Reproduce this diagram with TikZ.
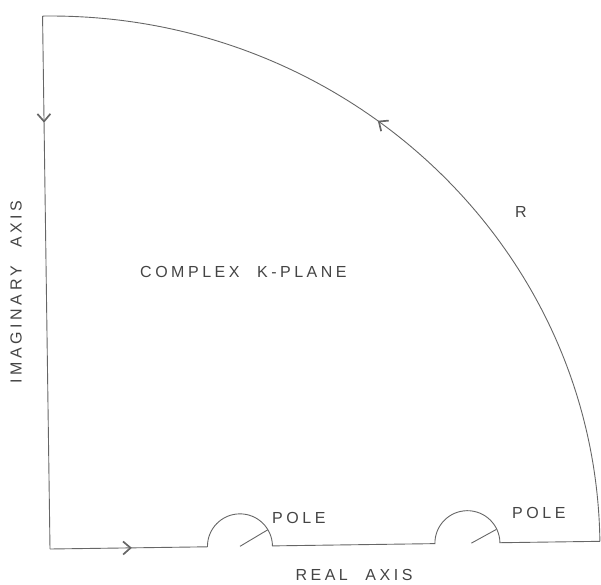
\documentclass[tikz,border=0pt]{standalone}
\usepackage{fontspec}
\newfontfamily\lbl[LetterSpace=22,WordSpace=2.2]{Liberation Sans}
\usetikzlibrary{arrows.meta,decorations.markings}
\definecolor{ink}{HTML}{666666}
\definecolor{txt}{HTML}{444444}
\begin{document}
\begin{tikzpicture}[x=1pt,y=1pt,
  contour/.style={draw=ink,line width=0.9pt},
  midarrow/.style={postaction={decorate},decoration={markings,mark=at position #1 with {\arrow{Straight Barb[length=7.5pt,width=13pt,line width=1.7pt]}}}},
  label/.style={text=txt,font=\lbl\fontsize{16}{16}\selectfont,inner sep=0pt}]
\useasboundingbox (0,0) rectangle (601,584);
\begin{scope}[shift={(50,35)},rotate=0.8]
  \coordinate (O) at (0,0);
  \coordinate (T) at (0,533);
  \coordinate (E) at (550,0);
  \coordinate (p1) at (190,0);
  \coordinate (p2) at (417.5,0);
  % left side (down arrow)
  \draw[contour,midarrow=0.2] (T) -- (O);
  % bottom with indentations
  \draw[contour,midarrow=0.52] (O) -- ([xshift=-32.5pt]p1);
  \draw[contour] ([xshift=-32.5pt]p1) arc[start angle=180,end angle=0,radius=32.5]
     -- ([xshift=-32.5pt]p2) arc[start angle=180,end angle=0,radius=32.5] -- (E);
  % radial lines at poles
  \draw[contour] (p1) -- ++(30:32.5);
  \draw[contour] ([xshift=4pt]p2) -- ++(28:28.5);
  % big arc
  \draw[contour,midarrow=0.58] (E) arc[start angle=0,end angle=90,x radius=550,y radius=533];
\end{scope}
\node[label,anchor=west] (pole1) at (272,66) {POLE};
\node[label,anchor=west] (pole2) at (512,71) {POLE};
\node[label] (real) at (354,9) {REAL AXIS};
\node[label,rotate=90] (imag) at (16,292) {IMAGINARY AXIS};
\node[label,anchor=west] (cplx) at (140,312) {COMPLEX K-PLANE};
\node[label] (R) at (521,372) {R};
\end{tikzpicture}
\end{document}
